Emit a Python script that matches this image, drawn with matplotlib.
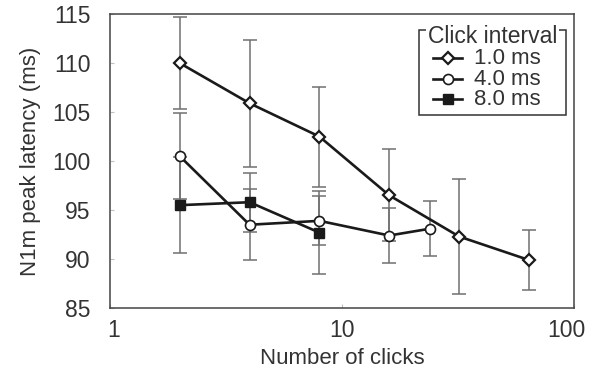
import matplotlib
matplotlib.use("Agg")
import matplotlib.pyplot as plt
import matplotlib.transforms as mtransforms
from matplotlib.lines import Line2D
from matplotlib.patches import Rectangle

plt.rcParams['font.family'] = ['Liberation Sans', 'DejaVu Sans']

# data
clicks_1 = [2, 4, 8, 16, 32, 64]
lat_1 = [110.0, 105.9, 102.5, 96.5, 92.3, 89.9]
err_1 = [4.7, 6.5, 5.1, 4.7, 5.9, 3.1]

clicks_4 = [2, 4, 8, 16, 24]
lat_4 = [100.5, 93.5, 93.9, 92.4, 93.1]
err_4 = [4.4, 3.6, 2.5, 2.8, 2.8]

clicks_8 = [2, 4, 8]
lat_8 = [95.5, 95.8, 92.7]
err_8 = [4.9, 3.0, 4.2]

labels = ["1.0 ms", "4.0 ms", "8.0 ms"]
legend_title = "Click interval"
xticks = [1, 10, 100]
yticks = [85, 90, 95, 100, 105, 110, 115]

fig = plt.figure(figsize=(5.91, 3.72), dpi=100)
ax = fig.add_axes([0.186, 0.172, 0.785, 0.790])

lc = '#1a1a1a'
ec = '#707070'
styles = [
    dict(marker='D', ms=6.3, mfc='white', mec=lc, mew=1.6),
    dict(marker='o', ms=7.2, mfc='white', mec=lc, mew=1.2),
    dict(marker='s', ms=7.3, mfc=lc, mec=lc, mew=1.0),
]
series = [(clicks_1, lat_1, err_1), (clicks_4, lat_4, err_4), (clicks_8, lat_8, err_8)]
for (x, y, e) in series:
    ax.errorbar(x, y, yerr=e, fmt='none', ecolor=ec, elinewidth=1.1,
                capsize=5.2, capthick=1.1, zorder=2)
for (x, y, e), st in zip(series, styles):
    ax.plot(x, y, color=lc, lw=1.9, zorder=3, **st)

ax.set_xscale('log')
ax.set_xlim(1, 100)
ax.set_ylim(85, 115)
ax.set_xticks(xticks)
ax.set_xticklabels([str(v) for v in xticks])
ax.set_yticks(yticks)
ax.set_yticklabels([str(v) for v in yticks])
ax.xaxis.set_minor_locator(matplotlib.ticker.NullLocator())
ax.tick_params(axis='both', direction='in', length=3, width=0.8, color='#c0c0c0',
               labelsize=16.5, labelcolor='#333333')
ax.tick_params(axis='y', pad=14)
ax.tick_params(axis='x', pad=8)
for sp in ax.spines.values():
    sp.set_color('#444444')
    sp.set_linewidth(1.1)

# nudge first/last x tick labels as in the reference
xlabs = ax.get_xticklabels()
shifts = [4, 0, -7]
for lab, dx in zip(xlabs, shifts):
    lab.set_transform(lab.get_transform() +
                      mtransforms.ScaledTranslation(dx / 100, 0, fig.dpi_scale_trans))

ax.set_xlabel("Number of clicks", fontsize=16, color='#333333', labelpad=4)
ax.set_ylabel("N1m peak latency (ms)", fontsize=16, color='#333333', labelpad=8)

# legend (manual)
T = ax.transAxes
box = Rectangle((0.666, 0.656), 0.317, 0.290, transform=T, fill=False,
                edgecolor='#333333', lw=1.1, zorder=5, clip_on=False)
ax.add_patch(box)
ax.text(0.685, 0.925, legend_title, transform=T, fontsize=16.5, color='#333333',
        va='center', ha='left', zorder=6,
        bbox=dict(facecolor='white', edgecolor='none', pad=1.5))
rows = [0.850, 0.778, 0.711]
for lab, st, yy in zip(labels, styles, rows):
    ax.add_line(Line2D([0.696, 0.759], [yy, yy], transform=T, color=lc, lw=1.9,
                       zorder=6, clip_on=False))
    ax.add_line(Line2D([0.728], [yy], transform=T, color=lc, lw=0, zorder=7,
                       clip_on=False, **st))
    ax.text(0.784, yy, lab, transform=T, fontsize=16, color='#333333',
            va='center', ha='left', zorder=6)

fig.savefig("out.png", dpi=100)
